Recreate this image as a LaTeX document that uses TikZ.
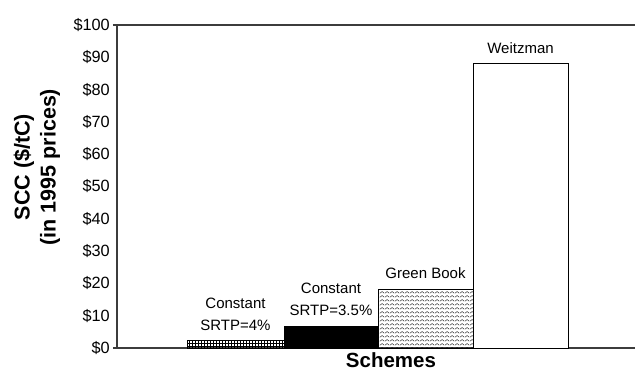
\documentclass[tikz,border=0pt]{standalone}
\usepackage{fontspec}
\setmainfont{Liberation Sans}
\usepackage{tikz}
\usetikzlibrary{patterns}
\pgfdeclarepatternformonly{waves}{\pgfpointorigin}{\pgfpoint{5pt}{4pt}}{\pgfpoint{5pt}{4pt}}{
  \pgfsetlinewidth{0.45pt}
  \pgfpathmoveto{\pgfpoint{0pt}{1pt}}
  \pgfpathlineto{\pgfpoint{2.5pt}{3pt}}
  \pgfpathlineto{\pgfpoint{5pt}{1pt}}
  \pgfusepath{stroke}
}
\definecolor{axisgray}{RGB}{60,60,60}
\newcommand\ticklabelsize{\fontsize{16.3}{18}\selectfont}

\begin{document}
\begin{tikzpicture}[x=1pt, y=3.23pt,
		frame/.style={axisgray, line width=1.1pt},
		bar/.style={black, line width=0.8pt},
		barlabel/.style={anchor=south, inner sep=0, yshift=10pt, align=center, font=\fontsize{15}{22.5}\selectfont},
		axistitle/.style={font=\fontsize{21.5}{26}\selectfont\bfseries, align=center, inner sep=0}]
				    		\useasboundingbox (-117, -7.74) rectangle (518, 107.74);
				    		% frame and value axis
				    		\draw[frame] (-4, 100)--(518, 100);
				    		\draw[frame] (-4, 0)--(518, 0);
				    		\draw[frame] (0, 0)--(0, 100);
				    		\foreach \v in {0, 10, ..., 100}
				    			\node[anchor=east, inner sep=0, font=\ticklabelsize] (tick\v) at (-7, \v) {\$\v};
				    		% bars
				    		\draw[bar, pattern=grid] (70, 0) rectangle (167, 2.2);
				    		\draw[bar, fill=black] (167, 0) rectangle (261, 6.8);
				    		\draw[bar, pattern=waves] (261, 0) rectangle (356, 18.2);
				    		\draw[bar, fill=white] (356, 0) rectangle (451, 88);
				    		\node[barlabel] (lblfour) at (118.5, 2.2) {Constant\\SRTP=4\%};
				    		\node[barlabel] (lblthree) at (214, 6.8) {Constant\\SRTP=3.5\%};
				    		\node[barlabel] (lblgreen) at (308.5, 18.2) {Green Book};
				    		\node[barlabel] (lblweitz) at (403.5, 88) {Weitzman};
				    		% axis titles
				    		\node[axistitle, font=\fontsize{20.5}{26}\selectfont\bfseries] (xtitle) at (274, -3.9) {Schemes};
				    		\node[axistitle, rotate=90] (ytitle) at (-80, 56) {SCC (\$/tC)\\(in 1995 prices)};
				    	\end{tikzpicture}
\end{document}
